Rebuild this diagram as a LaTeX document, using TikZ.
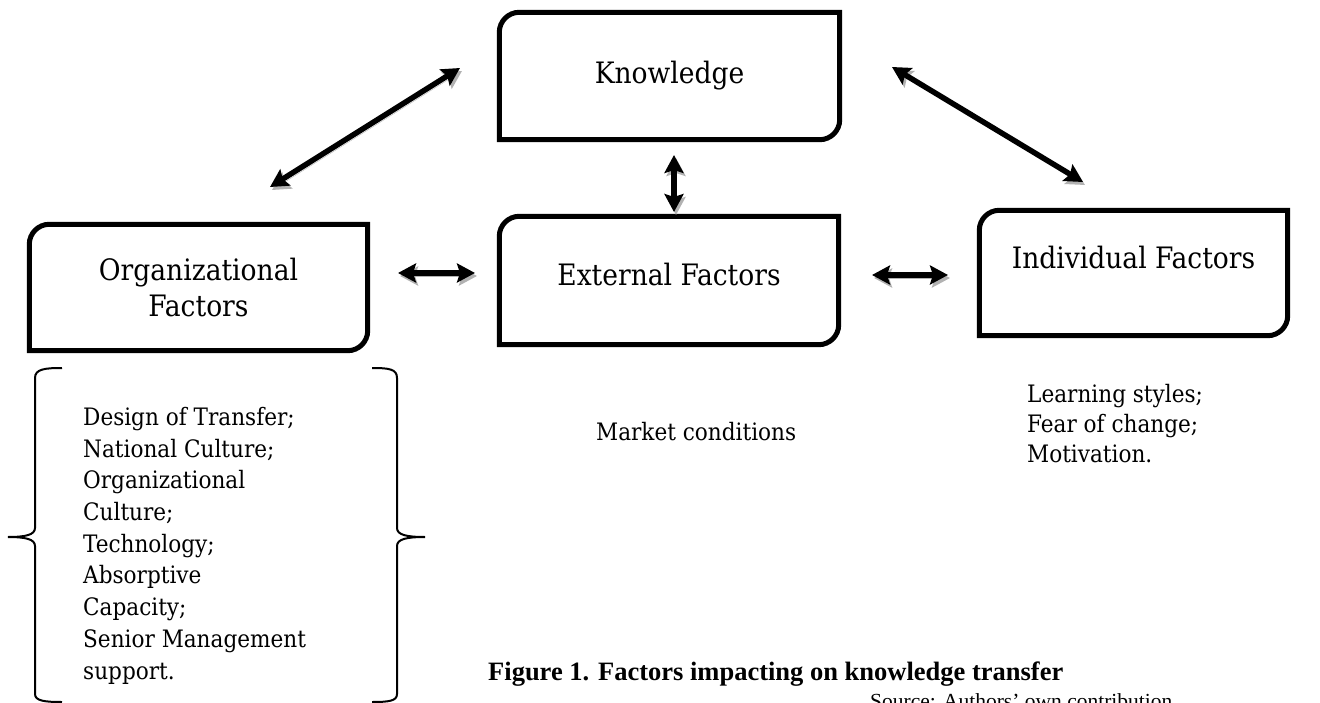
\documentclass[tikz,border=0pt]{standalone}
\usepackage{fontspec}
\setmainfont{DejaVu Serif Condensed}
\newfontfamily\capfont{Liberation Serif}
\usetikzlibrary{arrows.meta}

\tikzset{
  factor/.style={inner sep=0pt, align=center, font=\fontsize{29.5}{36}\selectfont},
  boxline/.style={line width=5pt, line join=miter},
  listtext/.style={inner sep=0pt, align=left, anchor=north west, font=\fontsize{24}{31.7}\selectfont},
  link/.style={line width=5.5pt,
    {Stealth[length=18pt,width=19pt,inset=3pt]}-{Stealth[length=18pt,width=19pt,inset=3pt]},
    preaction={draw=gray!60, transform canvas={shift={(2pt,-3pt)}}}},
  brace/.style={line width=2pt}
}

% frame with round top-left and bottom-right corners
\newcommand\factorframe[1]{%
  \draw[boxline] (#1.south west) -- ([yshift=-20pt]#1.north west)
    arc[start angle=180, end angle=90, radius=20pt] -- (#1.north east)
    -- ([yshift=20pt]#1.south east)
    arc[start angle=0, end angle=-90, radius=20pt] -- cycle;}

\begin{document}
\begin{tikzpicture}[x=1pt, y=1pt]
  \useasboundingbox (0,0) rectangle (1320,-703);

  \node[factor, minimum width=340pt, minimum height=127pt] (know) at (669.5,-76) {Knowledge};
  \node[factor, minimum width=338pt, minimum height=126pt] (org) at (198.5,-287.5) {Organizational\\Factors};
  \node[factor, minimum width=339pt, minimum height=128pt] (ext) at (669,-280.5) {};
  \node[factor] (exttext) at (669,-275) {External Factors};
  \node[factor, minimum width=308pt, minimum height=125pt] (ind) at (1133.5,-273) {};
  \node[factor] (indtext) at (1133.5,-258) {Individual Factors};

  \factorframe{know}
  \factorframe{org}
  \factorframe{ext}
  \factorframe{ind}

  % arrow ends
  \coordinate (ko1) at (460,-68);
  \coordinate (ko2) at (270,-187);
  \coordinate (ki1) at (892,-67);
  \coordinate (ki2) at (1083,-182);
  \coordinate (ke1) at (674,-155);
  \coordinate (ke2) at (674,-212);
  \coordinate (oe1) at (398,-273);
  \coordinate (oe2) at (475,-273);
  \coordinate (ei1) at (872,-275);
  \coordinate (ei2) at (948,-275);

  \draw[link] (ko1) -- (ko2);
  \draw[link] (ki1) -- (ki2);
  \draw[link] (ke1) -- (ke2);
  \draw[link] (oe1) -- (oe2);
  \draw[link] (ei1) -- (ei2);

  % braces round the list
  \draw[brace] (62,-368) .. controls (45,-368) and (35,-369) .. (35,-378) -- (35,-528)
    .. controls (35,-535) and (25,-537) .. (8,-537)
    .. controls (25,-537) and (35,-539) .. (35,-546) -- (35,-694)
    .. controls (35,-701) and (45,-702) .. (62,-702);
  \draw[brace] (372,-368) .. controls (389,-368) and (397,-369) .. (397,-378) -- (397,-528)
    .. controls (397,-535) and (407,-537) .. (425,-537)
    .. controls (407,-537) and (397,-539) .. (397,-546) -- (397,-694)
    .. controls (397,-701) and (389,-702) .. (372,-702);

  \node[listtext] (orglist) at (83,-407) {Design of Transfer;\\National Culture;\\Organizational\\Culture;\\Technology;\\Absorptive\\Capacity;\\Senior Management\\support.};
  \node[inner sep=0pt, anchor=base west, font=\fontsize{24}{30}\selectfont] (market) at (596,-440) {Market conditions};
  \node[listtext, font=\fontsize{24}{30}\selectfont] (indlist) at (1027,-384) {Learning styles;\\Fear of change;\\Motivation.};

  \node[inner sep=0pt, anchor=base west, font=\capfont\bfseries\fontsize{26.5}{30}\selectfont] (caption) at (488,-680) {Figure 1. Factors impacting on knowledge transfer};
  \node[inner sep=0pt, anchor=base west, font=\capfont\fontsize{21.5}{30}\selectfont] (source) at (870,-708) {Source: Authors’ own contribution};
\end{tikzpicture}
\end{document}
